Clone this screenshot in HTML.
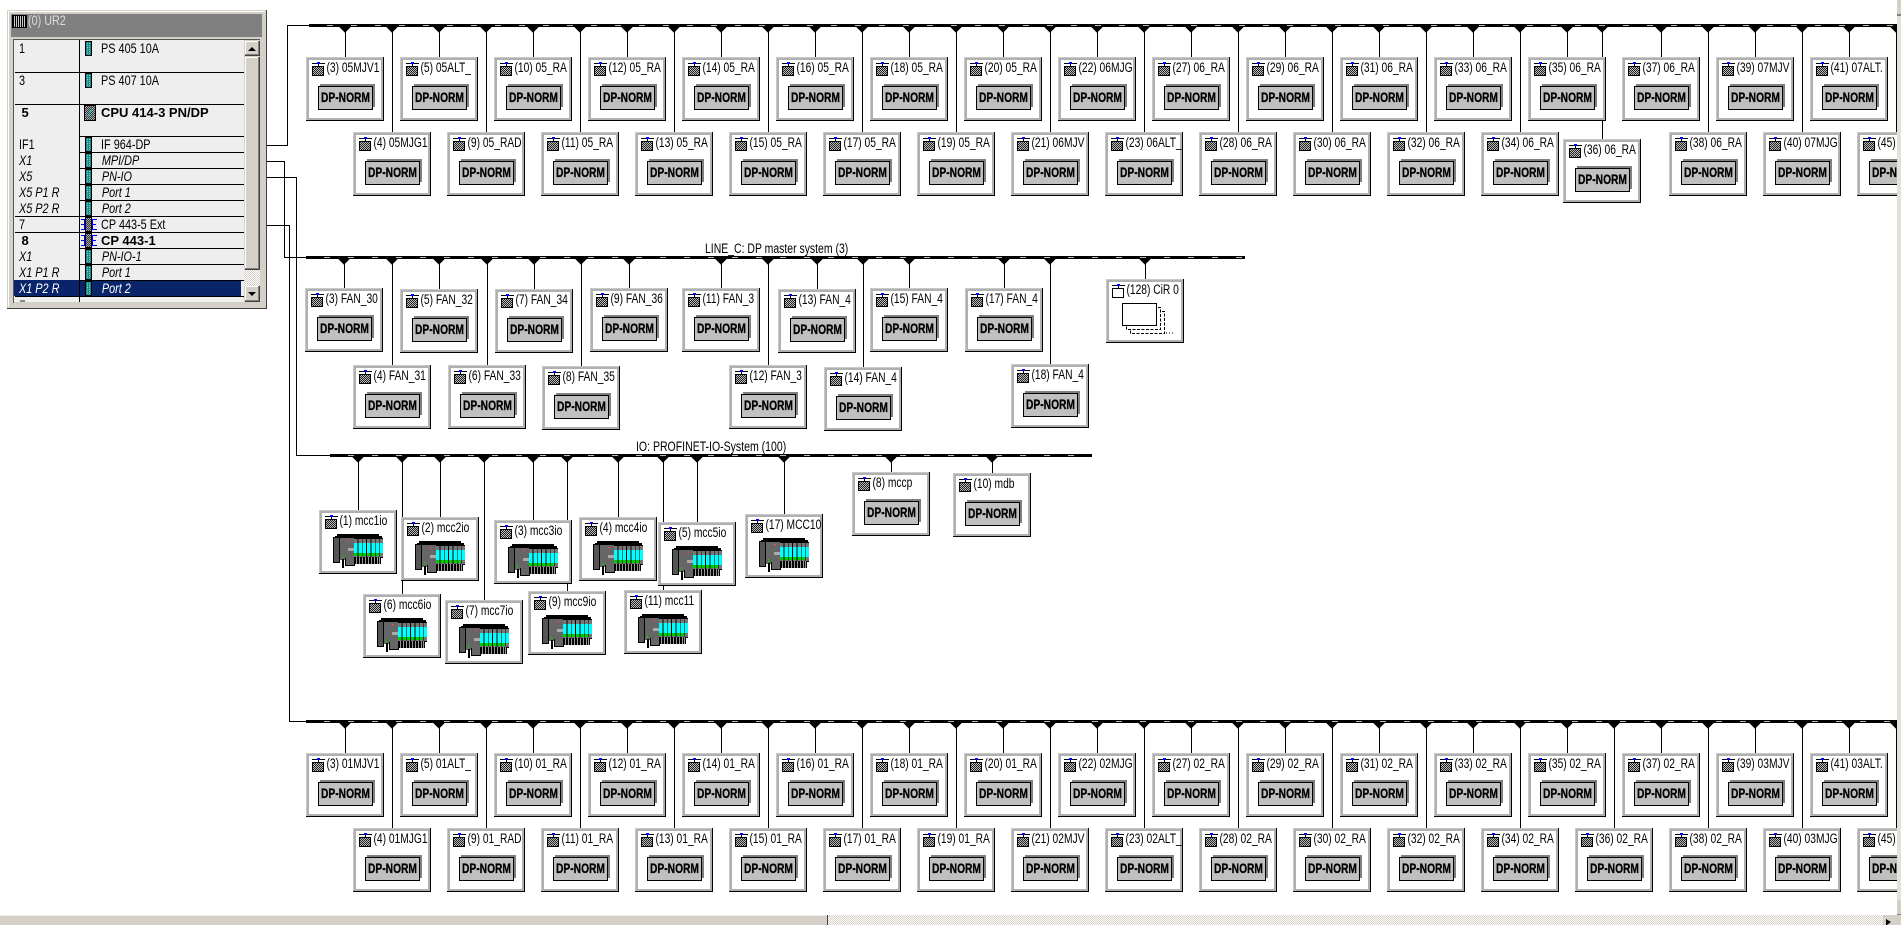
<!DOCTYPE html>
<html><head><meta charset="utf-8"><title>UR2</title>
<style>
html,body{margin:0;padding:0;background:#fff;overflow:hidden;width:1901px;height:925px}
svg{display:block}
text{font-family:"Liberation Sans",sans-serif;fill:#000}
.l{font-size:13.5px;transform:translate(20.5px,15px) scaleX(.76)}
.d{font-size:13.5px;font-weight:bold;text-anchor:middle;transform:translate(39.5px,45px) scaleX(.76);stroke:#000;stroke-width:.3px}
.p{font-size:13.5px}
.b{font-size:13px;font-weight:bold}
.i{font-size:13.5px;font-style:italic}
.w{fill:#fff}
.tr{stroke:#000;stroke-width:1}
</style></head><body>
<svg width="1901" height="925" viewBox="0 0 1901 925" xmlns="http://www.w3.org/2000/svg" shape-rendering="crispEdges">
<defs>
<pattern id="c" width="2" height="2" patternUnits="userSpaceOnUse"><rect width="2" height="2" fill="#222"/><rect width="1" height="1" fill="#bbb"/><rect x="1" y="1" width="1" height="1" fill="#bbb"/></pattern>
<pattern id="s" width="2" height="2" patternUnits="userSpaceOnUse"><rect width="2" height="2" fill="#fff"/><rect width="1" height="1" fill="#d4d0c8"/><rect x="1" y="1" width="1" height="1" fill="#d4d0c8"/></pattern>
<pattern id="t" width="2" height="2" patternUnits="userSpaceOnUse"><rect width="2" height="2" fill="#178a8a"/><rect width="1" height="1" fill="#8cc"/></pattern>
<pattern id="g" width="2" height="2" patternUnits="userSpaceOnUse"><rect width="2" height="2" fill="#333"/><rect width="1" height="1" fill="#aaa"/><rect x="1" y="1" width="1" height="1" fill="#aaa"/></pattern>
<g id="f">
<rect width="78" height="64" fill="#b0b0b0"/>
<rect x="0" y="0" width="78" height="1" fill="#c8c8c8"/><rect x="0" y="0" width="1" height="64" fill="#c8c8c8"/>
<rect x="3" y="3" width="72" height="58" fill="#fff"/>
<rect x="77" y="0" width="1" height="64" fill="#000"/><rect x="0" y="63" width="78" height="1" fill="#000"/>
</g>
<g id="k">
<rect x="6" y="6" width="13" height="1" fill="#000"/><rect x="11" y="5" width="3" height="2" fill="#00f"/><rect x="12" y="7" width="1" height="3" fill="#000"/>
<rect x="6" y="9" width="12" height="10" fill="#000"/><rect x="7" y="10" width="10" height="8" fill="url(#c)"/>
</g>
<g id="a">
<use href="#f"/><use href="#k"/>
<rect x="14" y="27" width="55" height="23" fill="#808080"/>
<rect x="12" y="29" width="55" height="24" fill="#000"/><rect x="13" y="30" width="53" height="22" fill="#c0c0c0"/>
</g>
<g id="e">
<use href="#f"/><use href="#k"/>
<rect x="18" y="24" width="42" height="2" fill="#000"/><rect x="16" y="26" width="47" height="2" fill="#000"/>
<rect x="14" y="27" width="7" height="26" fill="#000"/><rect x="15" y="28" width="5" height="24" fill="#555"/>
<rect x="20" y="28" width="44" height="20" fill="#000"/>
<rect x="21" y="28" width="14" height="22" fill="#666"/><rect x="26" y="48" width="10" height="8" fill="#000"/><rect x="27" y="48" width="8" height="7" fill="#666"/>
<rect x="23" y="45" width="1" height="3" fill="#0c0"/><rect x="29" y="38" width="6" height="3" fill="#aaa"/><rect x="29" y="30" width="2" height="1" fill="#f44"/>
<rect x="35" y="29" width="3.5" height="4" fill="#777"/><rect x="35" y="33" width="3.5" height="10" fill="#0ff"/><rect x="35" y="43" width="3.5" height="4" fill="#777"/><rect x="35" y="43" width="3.5" height="3" fill="#0c0"/>
<rect x="39.3" y="29" width="3.5" height="4" fill="#777"/><rect x="39.3" y="33" width="3.5" height="10" fill="#0ff"/><rect x="39.3" y="43" width="3.5" height="4" fill="#777"/><rect x="39.3" y="43" width="3.5" height="3" fill="#0c0"/>
<rect x="43.6" y="29" width="3.5" height="4" fill="#777"/><rect x="43.6" y="33" width="3.5" height="10" fill="#0ff"/><rect x="43.6" y="43" width="3.5" height="4" fill="#777"/><rect x="43.6" y="43" width="3.5" height="3" fill="#0c0"/>
<rect x="48" y="29" width="3.5" height="4" fill="#777"/><rect x="48" y="33" width="3.5" height="10" fill="#0ff"/><rect x="48" y="43" width="3.5" height="4" fill="#777"/><rect x="48" y="43" width="3.5" height="3" fill="#0c0"/>
<rect x="52.3" y="29" width="3.5" height="4" fill="#777"/><rect x="52.3" y="33" width="3.5" height="10" fill="#0ff"/><rect x="52.3" y="43" width="3.5" height="4" fill="#777"/><rect x="52.3" y="43" width="3.5" height="3" fill="#0c0"/>
<rect x="56.6" y="29" width="3.5" height="4" fill="#777"/><rect x="56.6" y="33" width="3.5" height="10" fill="#0ff"/><rect x="56.6" y="43" width="3.5" height="4" fill="#777"/><rect x="56.6" y="43" width="3.5" height="3" fill="#0c0"/>
<rect x="60.5" y="29" width="3.5" height="4" fill="#777"/><rect x="60.5" y="33" width="3.5" height="10" fill="#0ff"/><rect x="60.5" y="43" width="3.5" height="4" fill="#777"/>
<rect x="36" y="47" width="26" height="7" fill="#000"/>
<path d="M37.5 47v7M40.5 47v7M43.5 47v7M46.5 47v7M49.5 47v7M52.5 47v7M55.5 47v7M58.5 47v7M60.5 47v7" stroke="#999" stroke-width="1" fill="none"/>
<rect x="23" y="49" width="2" height="9" fill="#000"/>
</g>
<g id="m"><rect width="7" height="15" fill="#000"/><rect x="1" y="1" width="5" height="13" fill="url(#t)"/></g>
</defs>

<!-- connectors from rack -->
<path d="M267 145.5H287.5V25.5H309M267 161.5H284.5V257.5H306M267 177.5H296.5V455.5H330M267 225.5H289.5V721.5H306" fill="none" stroke="#000"/>

<!-- bus 1 -->
<path fill="none" stroke="#000" d="M345.5 27v30m94-30v30m94-30v30m94-30v30m94-30v30m94-30v30m94-30v30m94-30v30m94-30v30m94-30v30m94-30v30m94-30v30m94-30v30m94-30v30m94-30v30m94-30v30m94-30v30"/>
<path fill="none" stroke="#000" d="M392.5 27v105m94-105v105m94-105v105m94-105v105m94-105v105m94-105v105m94-105v105m94-105v105m94-105v105m94-105v105m94-105v105m94-105v105m94-105v105M1602.5 27v112M1708.5 27v105m94-105v105m94-105v105"/>
<rect x="309" y="24" width="1588" height="3" fill="#000"/>
<path d="M309 25.5H1897" stroke="#bbb" stroke-dasharray="6 18" stroke-dashoffset="-18"/>
<path class="tr" shape-rendering="auto" d="M340 27h10l-5 5zm94 0h10l-5 5zm94 0h10l-5 5zm94 0h10l-5 5zm94 0h10l-5 5zm94 0h10l-5 5zm94 0h10l-5 5zm94 0h10l-5 5zm94 0h10l-5 5zm94 0h10l-5 5zm94 0h10l-5 5zm94 0h10l-5 5zm94 0h10l-5 5zm94 0h10l-5 5zm94 0h10l-5 5zm94 0h10l-5 5zm94 0h10l-5 5zM387 27h10l-5 5zm94 0h10l-5 5zm94 0h10l-5 5zm94 0h10l-5 5zm94 0h10l-5 5zm94 0h10l-5 5zm94 0h10l-5 5zm94 0h10l-5 5zm94 0h10l-5 5zm94 0h10l-5 5zm94 0h10l-5 5zm94 0h10l-5 5zm94 0h10l-5 5zM1597 27h10l-5 5zM1703 27h10l-5 5zm94 0h10l-5 5zm94 0h10l-5 5z"/>

<!-- bus 2 -->
<path fill="none" stroke="#000" d="M344.5 259V288M392.5 259V365M439.5 259V289M487.5 259V365M534.5 259V289M581.5 259V366M629.5 259V288M721.5 259V288M768.5 259V366M817.5 259V289M863.5 259V367M909.5 259V288M1004.5 259V288M1050.5 259V366M1145.5 259V279"/>
<rect x="306" y="256" width="939" height="3" fill="#000"/>
<path d="M306 257.5H1245" stroke="#bbb" stroke-dasharray="6 18" stroke-dashoffset="-18"/>
<path class="tr" shape-rendering="auto" d="M339 259h10l-5 5zM387 259h10l-5 5zM434 259h10l-5 5zM482 259h10l-5 5zM529 259h10l-5 5zM576 259h10l-5 5zM624 259h10l-5 5zM716 259h10l-5 5zM763 259h10l-5 5zM812 259h10l-5 5zM858 259h10l-5 5zM904 259h10l-5 5zM999 259h10l-5 5zM1045 259h10l-5 5zM1140 259h10l-5 5z"/>
<text x="0" y="0" style="font-size:13.5px;transform:translate(705px,253px) scaleX(.775)">LINE_C: DP master system (3)</text>

<!-- bus 3 -->
<path fill="none" stroke="#000" d="M358.5 457V510M402.5 457V594M440.5 457V517M484.5 457V600M533.5 457V520M567.5 457V591M618.5 457V517M663.5 457V590M697.5 457V522M784.5 457V514M891.5 457V472M992.5 457V473"/>
<rect x="330" y="454" width="762" height="3" fill="#000"/>
<path d="M330 455.5H1092" stroke="#bbb" stroke-dasharray="6 18" stroke-dashoffset="-18"/>
<path class="tr" shape-rendering="auto" d="M353 457h10l-5 5zM397 457h10l-5 5zM435 457h10l-5 5zM479 457h10l-5 5zM528 457h10l-5 5zM562 457h10l-5 5zM613 457h10l-5 5zM658 457h10l-5 5zM692 457h10l-5 5zM779 457h10l-5 5zM886 457h10l-5 5zM987 457h10l-5 5z"/>
<text x="0" y="0" style="font-size:13.5px;transform:translate(636px,451px) scaleX(.78)">IO: PROFINET-IO-System (100)</text>

<!-- bus 4 -->
<path fill="none" stroke="#000" d="M345.5 723v30m94-30v30m94-30v30m94-30v30m94-30v30m94-30v30m94-30v30m94-30v30m94-30v30m94-30v30m94-30v30m94-30v30m94-30v30m94-30v30m94-30v30m94-30v30m94-30v30"/>
<path fill="none" stroke="#000" d="M392.5 723v105m94-105v105m94-105v105m94-105v105m94-105v105m94-105v105m94-105v105m94-105v105m94-105v105m94-105v105m94-105v105m94-105v105m94-105v105m94-105v105m94-105v105m94-105v105m94-105v105"/>
<rect x="306" y="720" width="1591" height="3" fill="#000"/>
<path d="M306 721.5H1897" stroke="#bbb" stroke-dasharray="6 18" stroke-dashoffset="-18"/>
<path class="tr" shape-rendering="auto" d="M340 723h10l-5 5zm94 0h10l-5 5zm94 0h10l-5 5zm94 0h10l-5 5zm94 0h10l-5 5zm94 0h10l-5 5zm94 0h10l-5 5zm94 0h10l-5 5zm94 0h10l-5 5zm94 0h10l-5 5zm94 0h10l-5 5zm94 0h10l-5 5zm94 0h10l-5 5zm94 0h10l-5 5zm94 0h10l-5 5zm94 0h10l-5 5zm94 0h10l-5 5zM387 723h10l-5 5zm94 0h10l-5 5zm94 0h10l-5 5zm94 0h10l-5 5zm94 0h10l-5 5zm94 0h10l-5 5zm94 0h10l-5 5zm94 0h10l-5 5zm94 0h10l-5 5zm94 0h10l-5 5zm94 0h10l-5 5zm94 0h10l-5 5zm94 0h10l-5 5zm94 0h10l-5 5zm94 0h10l-5 5zm94 0h10l-5 5zm94 0h10l-5 5z"/>

<!-- top nodes row 1 -->
<g transform="translate(306,57)"><use href="#a"/><text class="l">(3) 05MJV1</text><text class="d">DP-NORM</text></g>
<g transform="translate(400,57)"><use href="#a"/><text class="l">(5) 05ALT_</text><text class="d">DP-NORM</text></g>
<g transform="translate(494,57)"><use href="#a"/><text class="l">(10) 05_RA</text><text class="d">DP-NORM</text></g>
<g transform="translate(588,57)"><use href="#a"/><text class="l">(12) 05_RA</text><text class="d">DP-NORM</text></g>
<g transform="translate(682,57)"><use href="#a"/><text class="l">(14) 05_RA</text><text class="d">DP-NORM</text></g>
<g transform="translate(776,57)"><use href="#a"/><text class="l">(16) 05_RA</text><text class="d">DP-NORM</text></g>
<g transform="translate(870,57)"><use href="#a"/><text class="l">(18) 05_RA</text><text class="d">DP-NORM</text></g>
<g transform="translate(964,57)"><use href="#a"/><text class="l">(20) 05_RA</text><text class="d">DP-NORM</text></g>
<g transform="translate(1058,57)"><use href="#a"/><text class="l">(22) 06MJG</text><text class="d">DP-NORM</text></g>
<g transform="translate(1152,57)"><use href="#a"/><text class="l">(27) 06_RA</text><text class="d">DP-NORM</text></g>
<g transform="translate(1246,57)"><use href="#a"/><text class="l">(29) 06_RA</text><text class="d">DP-NORM</text></g>
<g transform="translate(1340,57)"><use href="#a"/><text class="l">(31) 06_RA</text><text class="d">DP-NORM</text></g>
<g transform="translate(1434,57)"><use href="#a"/><text class="l">(33) 06_RA</text><text class="d">DP-NORM</text></g>
<g transform="translate(1528,57)"><use href="#a"/><text class="l">(35) 06_RA</text><text class="d">DP-NORM</text></g>
<g transform="translate(1622,57)"><use href="#a"/><text class="l">(37) 06_RA</text><text class="d">DP-NORM</text></g>
<g transform="translate(1716,57)"><use href="#a"/><text class="l">(39) 07MJV</text><text class="d">DP-NORM</text></g>
<g transform="translate(1810,57)"><use href="#a"/><text class="l">(41) 07ALT.</text><text class="d">DP-NORM</text></g>
<!-- top nodes row 2 -->
<g transform="translate(353,132)"><use href="#a"/><text class="l">(4) 05MJG1</text><text class="d">DP-NORM</text></g>
<g transform="translate(447,132)"><use href="#a"/><text class="l">(9) 05_RAD</text><text class="d">DP-NORM</text></g>
<g transform="translate(541,132)"><use href="#a"/><text class="l">(11) 05_RA</text><text class="d">DP-NORM</text></g>
<g transform="translate(635,132)"><use href="#a"/><text class="l">(13) 05_RA</text><text class="d">DP-NORM</text></g>
<g transform="translate(729,132)"><use href="#a"/><text class="l">(15) 05_RA</text><text class="d">DP-NORM</text></g>
<g transform="translate(823,132)"><use href="#a"/><text class="l">(17) 05_RA</text><text class="d">DP-NORM</text></g>
<g transform="translate(917,132)"><use href="#a"/><text class="l">(19) 05_RA</text><text class="d">DP-NORM</text></g>
<g transform="translate(1011,132)"><use href="#a"/><text class="l">(21) 06MJV</text><text class="d">DP-NORM</text></g>
<g transform="translate(1105,132)"><use href="#a"/><text class="l">(23) 06ALT_</text><text class="d">DP-NORM</text></g>
<g transform="translate(1199,132)"><use href="#a"/><text class="l">(28) 06_RA</text><text class="d">DP-NORM</text></g>
<g transform="translate(1293,132)"><use href="#a"/><text class="l">(30) 06_RA</text><text class="d">DP-NORM</text></g>
<g transform="translate(1387,132)"><use href="#a"/><text class="l">(32) 06_RA</text><text class="d">DP-NORM</text></g>
<g transform="translate(1481,132)"><use href="#a"/><text class="l">(34) 06_RA</text><text class="d">DP-NORM</text></g>
<g transform="translate(1563,139)"><use href="#a"/><text class="l">(36) 06_RA</text><text class="d">DP-NORM</text></g>
<g transform="translate(1669,132)"><use href="#a"/><text class="l">(38) 06_RA</text><text class="d">DP-NORM</text></g>
<g transform="translate(1763,132)"><use href="#a"/><text class="l">(40) 07MJG</text><text class="d">DP-NORM</text></g>
<g transform="translate(1857,132)"><use href="#a"/><text class="l">(45)</text><text class="d">DP-NORM</text></g>

<!-- FAN nodes -->
<g transform="translate(305,288)"><use href="#a"/><text class="l">(3) FAN_30</text><text class="d">DP-NORM</text></g>
<g transform="translate(400,289)"><use href="#a"/><text class="l">(5) FAN_32</text><text class="d">DP-NORM</text></g>
<g transform="translate(495,289)"><use href="#a"/><text class="l">(7) FAN_34</text><text class="d">DP-NORM</text></g>
<g transform="translate(590,288)"><use href="#a"/><text class="l">(9) FAN_36</text><text class="d">DP-NORM</text></g>
<g transform="translate(682,288)"><use href="#a"/><text class="l">(11) FAN_3</text><text class="d">DP-NORM</text></g>
<g transform="translate(778,289)"><use href="#a"/><text class="l">(13) FAN_4</text><text class="d">DP-NORM</text></g>
<g transform="translate(870,288)"><use href="#a"/><text class="l">(15) FAN_4</text><text class="d">DP-NORM</text></g>
<g transform="translate(965,288)"><use href="#a"/><text class="l">(17) FAN_4</text><text class="d">DP-NORM</text></g>
<g transform="translate(353,365)"><use href="#a"/><text class="l">(4) FAN_31</text><text class="d">DP-NORM</text></g>
<g transform="translate(448,365)"><use href="#a"/><text class="l">(6) FAN_33</text><text class="d">DP-NORM</text></g>
<g transform="translate(542,366)"><use href="#a"/><text class="l">(8) FAN_35</text><text class="d">DP-NORM</text></g>
<g transform="translate(729,365)"><use href="#a"/><text class="l">(12) FAN_3</text><text class="d">DP-NORM</text></g>
<g transform="translate(824,367)"><use href="#a"/><text class="l">(14) FAN_4</text><text class="d">DP-NORM</text></g>
<g transform="translate(1011,364)"><use href="#a"/><text class="l">(18) FAN_4</text><text class="d">DP-NORM</text></g>
<g transform="translate(1106,279)"><use href="#f"/>
<rect x="6" y="6" width="13" height="1" fill="#000"/><rect x="11" y="5" width="3" height="2" fill="#00f"/><rect x="12" y="7" width="1" height="3" fill="#000"/><rect x="6.5" y="9.5" width="11" height="9" fill="#fff" stroke="#000"/><rect x="7" y="18" width="11" height="1" fill="#000"/>
<rect x="24.5" y="32.5" width="34" height="22" fill="#fff" stroke="#000" stroke-dasharray="3 1.5"/>
<rect x="20.5" y="28.5" width="34" height="22" fill="#fff" stroke="#000" stroke-dasharray="3 1.5"/>
<rect x="16.5" y="24.5" width="34" height="22" fill="#fff" stroke="#000"/>
<path d="M60 54h1M63 54h1M66 54h1" stroke="#000"/>
<text class="l">(128) CiR 0</text></g>

<!-- IO nodes -->
<g transform="translate(319,510)"><use href="#e"/><text class="l">(1) mcc1io</text></g>
<g transform="translate(401,517)"><use href="#e"/><text class="l">(2) mcc2io</text></g>
<g transform="translate(494,520)"><use href="#e"/><text class="l">(3) mcc3io</text></g>
<g transform="translate(579,517)"><use href="#e"/><text class="l">(4) mcc4io</text></g>
<g transform="translate(658,522)"><use href="#e"/><text class="l">(5) mcc5io</text></g>
<g transform="translate(745,514)"><use href="#e"/><text class="l">(17) MCC10</text></g>
<g transform="translate(363,594)"><use href="#e"/><text class="l">(6) mcc6io</text></g>
<g transform="translate(445,600)"><use href="#e"/><text class="l">(7) mcc7io</text></g>
<g transform="translate(528,591)"><use href="#e"/><text class="l">(9) mcc9io</text></g>
<g transform="translate(624,590)"><use href="#e"/><text class="l">(11) mcc11</text></g>
<g transform="translate(852,472)"><use href="#a"/><text class="l">(8) mccp</text><text class="d">DP-NORM</text></g>
<g transform="translate(953,473)"><use href="#a"/><text class="l">(10) mdb</text><text class="d">DP-NORM</text></g>

<!-- bottom nodes row 1 -->
<g transform="translate(306,753)"><use href="#a"/><text class="l">(3) 01MJV1</text><text class="d">DP-NORM</text></g>
<g transform="translate(400,753)"><use href="#a"/><text class="l">(5) 01ALT_</text><text class="d">DP-NORM</text></g>
<g transform="translate(494,753)"><use href="#a"/><text class="l">(10) 01_RA</text><text class="d">DP-NORM</text></g>
<g transform="translate(588,753)"><use href="#a"/><text class="l">(12) 01_RA</text><text class="d">DP-NORM</text></g>
<g transform="translate(682,753)"><use href="#a"/><text class="l">(14) 01_RA</text><text class="d">DP-NORM</text></g>
<g transform="translate(776,753)"><use href="#a"/><text class="l">(16) 01_RA</text><text class="d">DP-NORM</text></g>
<g transform="translate(870,753)"><use href="#a"/><text class="l">(18) 01_RA</text><text class="d">DP-NORM</text></g>
<g transform="translate(964,753)"><use href="#a"/><text class="l">(20) 01_RA</text><text class="d">DP-NORM</text></g>
<g transform="translate(1058,753)"><use href="#a"/><text class="l">(22) 02MJG</text><text class="d">DP-NORM</text></g>
<g transform="translate(1152,753)"><use href="#a"/><text class="l">(27) 02_RA</text><text class="d">DP-NORM</text></g>
<g transform="translate(1246,753)"><use href="#a"/><text class="l">(29) 02_RA</text><text class="d">DP-NORM</text></g>
<g transform="translate(1340,753)"><use href="#a"/><text class="l">(31) 02_RA</text><text class="d">DP-NORM</text></g>
<g transform="translate(1434,753)"><use href="#a"/><text class="l">(33) 02_RA</text><text class="d">DP-NORM</text></g>
<g transform="translate(1528,753)"><use href="#a"/><text class="l">(35) 02_RA</text><text class="d">DP-NORM</text></g>
<g transform="translate(1622,753)"><use href="#a"/><text class="l">(37) 02_RA</text><text class="d">DP-NORM</text></g>
<g transform="translate(1716,753)"><use href="#a"/><text class="l">(39) 03MJV</text><text class="d">DP-NORM</text></g>
<g transform="translate(1810,753)"><use href="#a"/><text class="l">(41) 03ALT.</text><text class="d">DP-NORM</text></g>
<!-- bottom nodes row 2 -->
<g transform="translate(353,828)"><use href="#a"/><text class="l">(4) 01MJG1</text><text class="d">DP-NORM</text></g>
<g transform="translate(447,828)"><use href="#a"/><text class="l">(9) 01_RAD</text><text class="d">DP-NORM</text></g>
<g transform="translate(541,828)"><use href="#a"/><text class="l">(11) 01_RA</text><text class="d">DP-NORM</text></g>
<g transform="translate(635,828)"><use href="#a"/><text class="l">(13) 01_RA</text><text class="d">DP-NORM</text></g>
<g transform="translate(729,828)"><use href="#a"/><text class="l">(15) 01_RA</text><text class="d">DP-NORM</text></g>
<g transform="translate(823,828)"><use href="#a"/><text class="l">(17) 01_RA</text><text class="d">DP-NORM</text></g>
<g transform="translate(917,828)"><use href="#a"/><text class="l">(19) 01_RA</text><text class="d">DP-NORM</text></g>
<g transform="translate(1011,828)"><use href="#a"/><text class="l">(21) 02MJV</text><text class="d">DP-NORM</text></g>
<g transform="translate(1105,828)"><use href="#a"/><text class="l">(23) 02ALT_</text><text class="d">DP-NORM</text></g>
<g transform="translate(1199,828)"><use href="#a"/><text class="l">(28) 02_RA</text><text class="d">DP-NORM</text></g>
<g transform="translate(1293,828)"><use href="#a"/><text class="l">(30) 02_RA</text><text class="d">DP-NORM</text></g>
<g transform="translate(1387,828)"><use href="#a"/><text class="l">(32) 02_RA</text><text class="d">DP-NORM</text></g>
<g transform="translate(1481,828)"><use href="#a"/><text class="l">(34) 02_RA</text><text class="d">DP-NORM</text></g>
<g transform="translate(1575,828)"><use href="#a"/><text class="l">(36) 02_RA</text><text class="d">DP-NORM</text></g>
<g transform="translate(1669,828)"><use href="#a"/><text class="l">(38) 02_RA</text><text class="d">DP-NORM</text></g>
<g transform="translate(1763,828)"><use href="#a"/><text class="l">(40) 03MJG</text><text class="d">DP-NORM</text></g>
<g transform="translate(1857,828)"><use href="#a"/><text class="l">(45)</text><text class="d">DP-NORM</text></g>

<!-- rack panel -->
<rect x="7" y="10" width="260" height="299" fill="#404040"/>
<rect x="7" y="10" width="259" height="298" fill="#d4d0c8"/>
<rect x="8" y="11" width="257" height="1" fill="#fff"/><rect x="8" y="11" width="1" height="296" fill="#fff"/>
<rect x="11" y="14" width="251" height="23" fill="#808080"/>
<rect x="12" y="15" width="15" height="13" fill="#000"/>
<path d="M14.5 16v11M16.5 16v11M18.5 16v11M20.5 16v11M22.5 16v11M24.5 16v11" stroke="#ccc"/>
<text style="font-size:13.5px;fill:#dcdcdc;transform:translate(28px,25px) scaleX(.8)">(0) UR2</text>
<rect x="13" y="39" width="247" height="1" fill="#555"/><rect x="13" y="39" width="1" height="264" fill="#555"/>
<rect x="14" y="40" width="230" height="262" fill="#eee"/>
<rect x="14" y="280" width="227" height="16" fill="#0a246a"/>
<path fill="none" stroke="#000" d="M15 72.5H244M15 104.5H244M79 136.5H244M79 152.5H244M79 168.5H244M79 184.5H244M79 200.5H244M15 216.5H244M15 232.5H244M79 248.5H244M79 264.5H244M79 280.5H244M15 296.5H244M79.5 40V302"/>
<rect x="20" y="300" width="5" height="2" fill="#888"/>
<!-- module icons -->
<use href="#m" x="85" y="41"/><use href="#m" x="85" y="73"/>
<rect x="84" y="105" width="12" height="16" fill="#000"/><rect x="85" y="106" width="10" height="14" fill="url(#g)"/><path d="M88 117l4-8" stroke="#0cc" fill="none" shape-rendering="auto"/>
<use href="#m" x="85" y="137"/><use href="#m" x="85" y="153"/><use href="#m" x="85" y="169"/><use href="#m" x="85" y="185"/><use href="#m" x="85" y="201"/>
<rect x="85" y="217" width="7" height="15" fill="#000"/><rect x="86" y="218" width="5" height="13" fill="url(#g)"/>
<rect x="85" y="233" width="7" height="15" fill="#000"/><rect x="86" y="234" width="5" height="13" fill="url(#g)"/>
<path stroke="#00f" fill="none" d="M81 219.5h3M81 229.5h3M84.5 219v11M81 224.5h4M93 219.5h4M93 229.5h4M92.5 219v11M92 224.5h4M81 235.5h3M81 245.5h3M84.5 235v11M81 240.5h4M93 235.5h4M93 245.5h4M92.5 235v11M92 240.5h4"/>
<use href="#m" x="85" y="249"/><use href="#m" x="85" y="265"/><use href="#m" x="85" y="281"/>
<!-- table text -->
<g transform="scale(.805,1)">
<text class="p" x="23.6" y="53">1</text><text class="p" x="125.5" y="53">PS 405 10A</text>
<text class="p" x="23.6" y="85">3</text><text class="p" x="125.5" y="85">PS 407 10A</text>
<text class="p" x="23.6" y="149">IF1</text><text class="p" x="125.5" y="149">IF 964-DP</text>
<text class="i" x="23.6" y="165">X1</text><text class="i" x="126.5" y="165">MPI/DP</text>
<text class="i" x="23.6" y="181">X5</text><text class="i" x="126.5" y="181">PN-IO</text>
<text class="i" x="23.6" y="197">X5 P1 R</text><text class="i" x="126.5" y="197">Port 1</text>
<text class="i" x="23.6" y="213">X5 P2 R</text><text class="i" x="126.5" y="213">Port 2</text>
<text class="p" x="23.6" y="229">7</text><text class="p" x="125.5" y="229">CP 443-5 Ext</text>
<text class="i" x="23.6" y="261">X1</text><text class="i" x="126.5" y="261">PN-IO-1</text>
<text class="i" x="23.6" y="277">X1 P1 R</text><text class="i" x="126.5" y="277">Port 1</text>
<text class="i w" x="23.6" y="293">X1 P2 R</text><text class="i w" x="126.5" y="293">Port 2</text>
</g>
<text class="b" x="21.5" y="117">5</text><text class="b" x="101" y="117">CPU 414-3 PN/DP</text>
<text class="b" x="21.5" y="245">8</text><text class="b" x="101" y="245">CP 443-1</text>
<!-- panel scrollbar -->
<rect x="244" y="40" width="16" height="262" fill="#d4d0c8"/>
<rect x="244" y="270" width="16" height="16" fill="url(#s)"/>
<rect x="245" y="41" width="15" height="15" fill="#404040"/><rect x="245" y="41" width="14" height="14" fill="#808080"/><rect x="245" y="41" width="13" height="13" fill="#fff"/><rect x="246" y="42" width="12" height="12" fill="#d4d0c8"/>
<path shape-rendering="auto" d="M248 51h8l-4-4z"/>
<rect x="245" y="57" width="15" height="213" fill="#404040"/><rect x="245" y="57" width="14" height="212" fill="#808080"/><rect x="245" y="57" width="13" height="211" fill="#fff"/><rect x="246" y="58" width="12" height="210" fill="#d4d0c8"/>
<rect x="245" y="286" width="15" height="16" fill="#404040"/><rect x="245" y="286" width="14" height="15" fill="#808080"/><rect x="245" y="286" width="13" height="14" fill="#fff"/><rect x="246" y="287" width="12" height="13" fill="#d4d0c8"/>
<path shape-rendering="auto" d="M248 292h8l-4 4z"/>

<!-- window scrollbars -->
<rect x="1897" y="0" width="4" height="925" fill="url(#s)"/>
<rect x="1897" y="0" width="4" height="14" fill="#d4d0c8"/>
<rect x="1897" y="14" width="4" height="2" fill="#808080"/>
<rect x="1897" y="16" width="4" height="884" fill="#e4e1da"/>
<rect x="1897" y="900" width="4" height="25" fill="#d4d0c8"/>
<rect x="1897" y="914" width="4" height="1" fill="#808080"/>
<rect x="0" y="915" width="1897" height="10" fill="url(#s)"/>
<rect x="0" y="915" width="827" height="10" fill="#d4d0c8"/>
<rect x="0" y="915" width="827" height="1" fill="#eeece6"/>
<rect x="827" y="915" width="1" height="10" fill="#404040"/>
<rect x="1883" y="915" width="14" height="10" fill="#d4d0c8"/>
<path shape-rendering="auto" d="M1886 919v6h1l4-3z"/>
</svg>
</body></html>
